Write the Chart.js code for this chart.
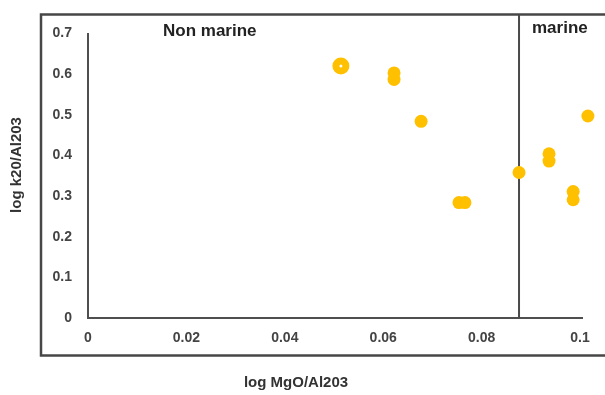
<!DOCTYPE html>
<html>
<head>
<meta charset="utf-8">
<script src="https://cdn.jsdelivr.net/npm/chart.js@4"></script>
<style>
  html, body { margin: 0; padding: 0; background: #fff; }
  #wrap { width: 605px; height: 395px; }
</style>
</head>
<body>
<div id="wrap"><canvas id="chart" width="605" height="395"></canvas></div>
<script>
// sample values
const mgoValues = [0.0622, 0.0622, 0.0677, 0.0754, 0.0766, 0.0876, 0.0937, 0.0937, 0.0986, 0.0986, 0.1016];
const k2oValues = [0.603, 0.587, 0.484, 0.284, 0.284, 0.358, 0.404, 0.386, 0.311, 0.291, 0.497];
// the ringed sample
const ringX = [0.0514];
const ringY = [0.620];
const xTicks = [0, 0.02, 0.04, 0.06, 0.08, 0.1];
const xTickLabels = ['0', '0.02', '0.04', '0.06', '0.08', '0.1'];
const yTicks = [0, 0.1, 0.2, 0.3, 0.4, 0.5, 0.6, 0.7];
const yTickLabels = ['0', '0.1', '0.2', '0.3', '0.4', '0.5', '0.6', '0.7'];
const marineBoundary = 0.0876;

const points = mgoValues.map((x, i) => ({ x: x, y: k2oValues[i] }));
const ring = ringX.map((x, i) => ({ x: x, y: ringY[i] }));

const frame = {
    id: 'frame',
    beforeDatasetsDraw(chart) {
        const ctx = chart.ctx;
        const x = chart.scales.x;
        const y = chart.scales.y;
        ctx.save();
        // outer box
        ctx.strokeStyle = '#474747';
        ctx.lineWidth = 2.5;
        ctx.strokeRect(41, 14.5, 600, 341);
        // marine / non marine divider
        const bx = x.getPixelForValue(marineBoundary);
        ctx.lineWidth = 2;
        ctx.strokeStyle = '#4a4a4a';
        ctx.beginPath();
        ctx.moveTo(bx, 15);
        ctx.lineTo(bx, y.getPixelForValue(0));
        ctx.stroke();
        ctx.restore();
    },
    afterDraw(chart) {
        const ctx = chart.ctx;
        ctx.save();
        ctx.fillStyle = '#222';
        ctx.font = 'bold 17px "Liberation Sans", Arial, sans-serif';
        ctx.textBaseline = 'middle';
        ctx.textAlign = 'left';
        ctx.fillText('Non marine', 163, 31);
        ctx.fillText('marine', 532, 28);
        ctx.fillStyle = '#333';
        ctx.font = 'bold 15px "Liberation Sans", Arial, sans-serif';
        ctx.textAlign = 'center';
        ctx.fillText('log MgO/Al203', 296, 383);
        ctx.translate(17, 165);
        ctx.rotate(-Math.PI / 2);
        ctx.fillText('log k20/Al203', 0, 0);
        ctx.restore();
    }
};

new Chart(document.getElementById('chart'), {
    type: 'scatter',
    data: {
        datasets: [
            {
                data: points,
                backgroundColor: '#FFC000',
                borderWidth: 0,
                pointRadius: 6.5,
                pointHoverRadius: 6.5,
            },
            {
                data: ring,
                backgroundColor: '#ffffff',
                borderColor: '#FFC000',
                borderWidth: 7,
                pointRadius: 5,
                pointHoverRadius: 5,
            },
        ],
    },
    options: {
        responsive: false,
        animation: false,
        clip: false,
        layout: { padding: { top: 33.5, right: 23, left: 0, bottom: 0 } },
        plugins: {
            legend: { display: false },
            tooltip: { enabled: false },
        },
        scales: {
            x: {
                type: 'linear',
                min: 0,
                max: 0.1004,
                afterBuildTicks: (axis) => { axis.ticks = xTicks.map(v => ({ value: v })); },
                afterFit: (axis) => { axis.height = 77; },
                grid: { display: false, drawTicks: false },
                border: { display: true, color: '#4f4f4f', width: 2 },
                ticks: {
                    padding: 12,
                    color: '#444',
                    font: { family: '"Liberation Sans", Arial, sans-serif', size: 14, weight: 'bold' },
                    callback: (v) => xTickLabels[xTicks.indexOf(v)],
                },
            },
            y: {
                type: 'linear',
                min: 0,
                max: 0.7,
                afterBuildTicks: (axis) => { axis.ticks = yTicks.map(v => ({ value: v })); },
                afterFit: (axis) => { axis.width = 88; },
                grid: { display: false, drawTicks: false },
                border: { display: true, color: '#4f4f4f', width: 2 },
                ticks: {
                    padding: 16,
                    color: '#444',
                    font: { family: '"Liberation Sans", Arial, sans-serif', size: 14, weight: 'bold' },
                    callback: (v) => yTickLabels[yTicks.indexOf(v)],
                },
            },
        },
    },
    plugins: [frame],
});
</script>
</body>
</html>
